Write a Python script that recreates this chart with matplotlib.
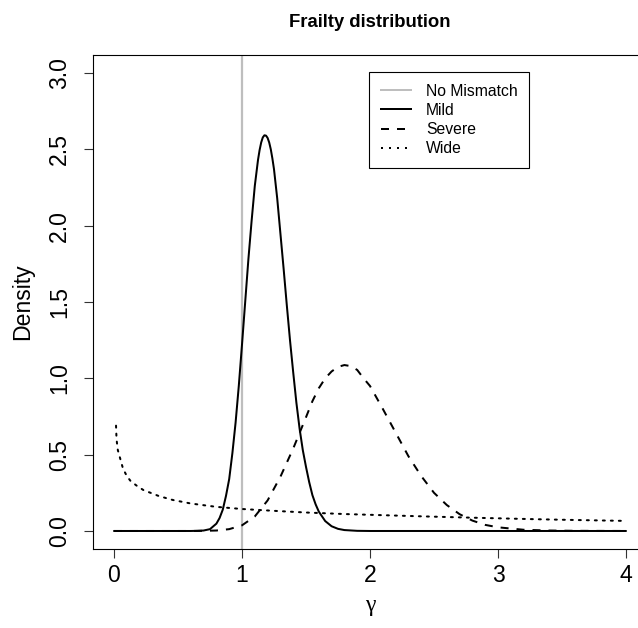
import matplotlib
matplotlib.use('Agg')
import matplotlib.pyplot as plt
from matplotlib.lines import Line2D

# ---- data ----
mild_x = [0.0, 0.6, 0.65, 0.7, 0.75, 0.8, 0.825, 0.85, 0.875, 0.9, 0.925, 0.95, 0.975,
          1.0, 1.025, 1.05, 1.075, 1.1, 1.125, 1.1375, 1.15, 1.1625, 1.175, 1.1875,
          1.2, 1.2125, 1.225, 1.2375, 1.25, 1.275,
          1.3, 1.325, 1.35, 1.375, 1.4, 1.425, 1.45, 1.475, 1.5, 1.525, 1.55, 1.575,
          1.6, 1.65, 1.7, 1.75, 1.8, 1.9, 2.0, 4.0]
mild_y = [0.0, 0.0, 0.001, 0.003, 0.012, 0.048, 0.085, 0.14, 0.23, 0.34, 0.51, 0.71, 0.95,
          1.22, 1.5, 1.78, 2.03, 2.26, 2.43, 2.495, 2.545, 2.578, 2.592, 2.59,
          2.575, 2.545, 2.50, 2.44, 2.37, 2.18,
          1.95, 1.72, 1.48, 1.25, 1.04, 0.84, 0.67, 0.53, 0.42, 0.32, 0.235, 0.175,
          0.127, 0.065, 0.031, 0.014, 0.006, 0.001, 0.0, 0.0]

severe_x = [0.0, 0.6, 0.7, 0.8, 0.9, 1.0, 1.1, 1.2, 1.3, 1.4, 1.5, 1.55, 1.6, 1.65,
            1.7, 1.75, 1.8, 1.85, 1.9, 1.95, 2.0, 2.05, 2.1, 2.2, 2.3, 2.4, 2.5,
            2.6, 2.7, 2.8, 2.9, 3.0, 3.2, 3.4, 3.6, 4.0]
severe_y = [0.0, 0.0, 0.001, 0.003, 0.012, 0.037, 0.095, 0.20, 0.355, 0.54, 0.745, 0.85,
            0.935, 1.0, 1.045, 1.075, 1.087, 1.08, 1.055, 1.0, 0.95, 0.875, 0.80,
            0.645, 0.49, 0.36, 0.25, 0.17, 0.11, 0.068, 0.04, 0.024, 0.008, 0.003,
            0.001, 0.0]

wide_x = [0.016, 0.02, 0.03, 0.05, 0.07, 0.1, 0.13, 0.18, 0.23, 0.35, 0.46, 0.6, 0.8,
          1.0, 1.25, 1.5, 1.8, 2.0, 2.4, 2.8, 3.3, 3.6, 4.0]
wide_y = [0.69, 0.60, 0.53, 0.47, 0.41, 0.36, 0.327, 0.295, 0.268, 0.229, 0.203, 0.18,
          0.158, 0.144, 0.132, 0.121, 0.111, 0.106, 0.096, 0.087, 0.077, 0.072, 0.066]

ref_x = 1.0

x_ticks = [0, 1, 2, 3, 4]
x_tick_labels = ['0', '1', '2', '3', '4']
y_ticks = [0.0, 0.5, 1.0, 1.5, 2.0, 2.5, 3.0]
y_tick_labels = ['0.0', '0.5', '1.0', '1.5', '2.0', '2.5', '3.0']

legend_labels = ['No Mismatch', 'Mild', 'Severe', 'Wide']

# ---- figure ----
plt.rcParams['font.family'] = ['Liberation Sans', 'DejaVu Sans']

W, H = 638, 628
fig = plt.figure(figsize=(W / 100, H / 100), dpi=100)
left, right, top, bottom = 93.5, 646.5, 54.7, 549.3
ax = fig.add_axes([left / W, (H - bottom) / H, (right - left) / W, (bottom - top) / H])
ax.set_xlim(-0.16, 4.16)
ax.set_ylim(-0.12, 3.12)

lw = 1.44
ax.axvline(ref_x, color='#BEBEBE', lw=1.6, zorder=1)
ax.plot(mild_x, mild_y, color='black', lw=lw, solid_capstyle='round',
        solid_joinstyle='round', zorder=3)
ax.plot(severe_x, severe_y, color='black', lw=lw, linestyle=(0, (4, 4)), zorder=3)
ax.plot(wide_x, wide_y, color='black', lw=lw, linestyle=(0, (1, 3)),
        dash_capstyle='round', zorder=3)

for s in ax.spines.values():
    s.set_linewidth(0.8)
    s.set_color('black')

ax.set_xticks(x_ticks)
ax.set_xticklabels(x_tick_labels)
ax.set_yticks(y_ticks)
ax.set_yticklabels(y_tick_labels, rotation=90, va='center')
ax.tick_params(direction='out', length=6.8, width=0.8, color='#333333',
               labelsize=16.6, pad=3.5)
ax.tick_params(axis='y', pad=9.5)

ax.set_xlabel('γ', family=['Liberation Serif', 'DejaVu Serif'], fontsize=17, labelpad=6)
ax.set_ylabel('Density', fontsize=16.6, labelpad=10)

fig.text(370 / W, 1 - 27 / H, 'Frailty distribution', ha='center', va='baseline',
         fontsize=13.3, fontweight='bold')

handles = [
    Line2D([], [], color='#BEBEBE', lw=lw),
    Line2D([], [], color='black', lw=lw),
    Line2D([], [], color='black', lw=lw, linestyle=(0, (4, 4))),
    Line2D([], [], color='black', lw=lw, linestyle=(0, (1, 3))),
]
leg = ax.legend(handles, legend_labels, loc='upper left',
                bbox_to_anchor=(1.995, 3.008), bbox_transform=ax.transData,
                fontsize=11.3, frameon=True, fancybox=False, framealpha=1,
                edgecolor='black', borderaxespad=0, borderpad=0.75,
                handlelength=1.9, handletextpad=0.95, labelspacing=0.27)
leg.get_frame().set_linewidth(0.8)

fig.savefig('out.png', dpi=100)
